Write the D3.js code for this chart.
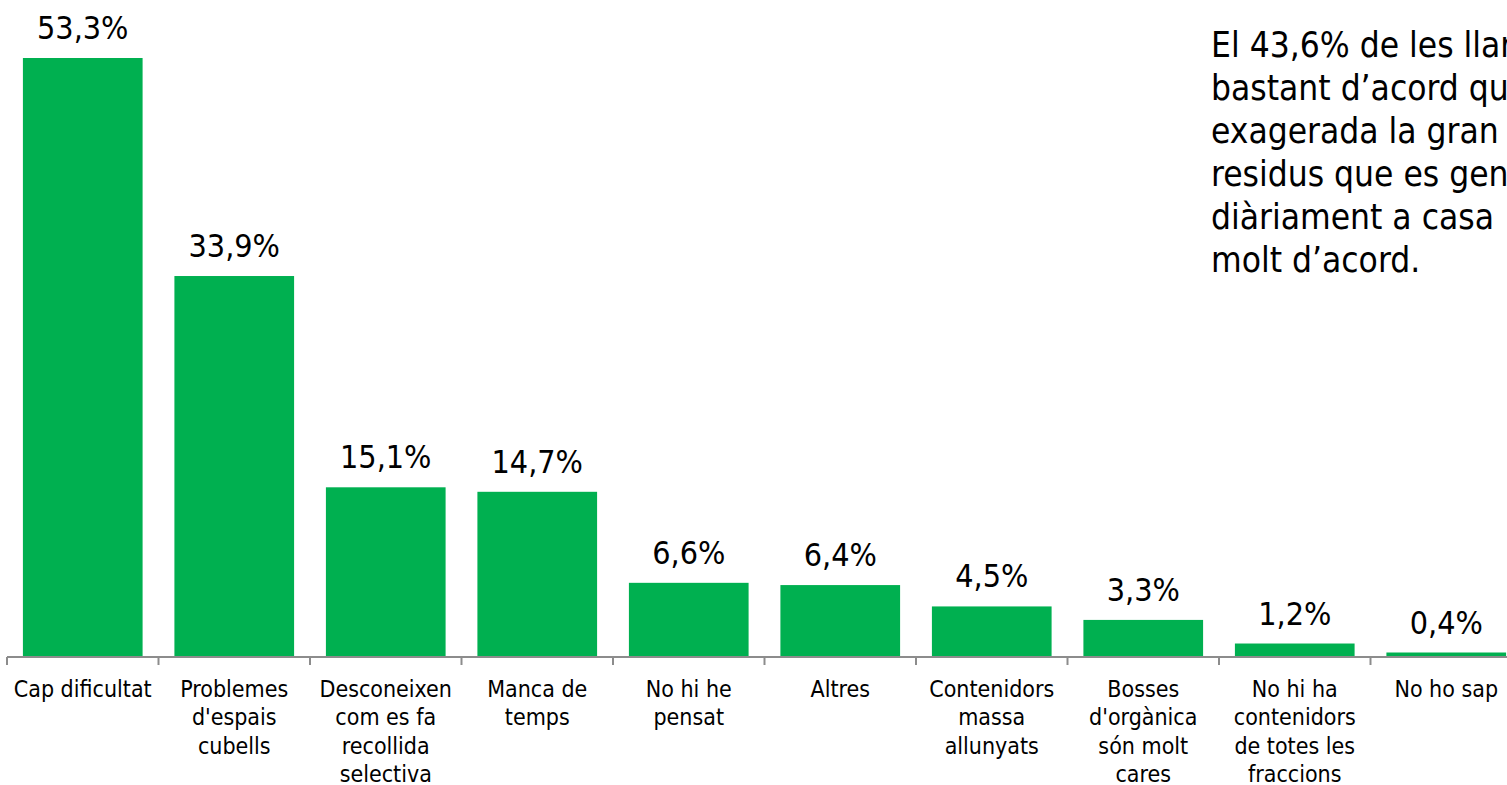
<!DOCTYPE html>
<meta charset="utf-8">
<style>
  body { margin: 0; background: #fff; overflow: hidden; }
  text { font-family: "DejaVu Sans Condensed", "DejaVu Sans", sans-serif; fill: #000; }
</style>
<body>
<svg width="1507" height="785"></svg>
<script src="https://d3js.org/d3.v7.min.js"></script>
<script>
// categories (line breaks as in the original)
var categories = [
  ["Cap dificultat"],
  ["Problemes", "d'espais", "cubells"],
  ["Desconeixen", "com es fa", "recollida", "selectiva"],
  ["Manca de", "temps"],
  ["No hi he", "pensat"],
  ["Altres"],
  ["Contenidors", "massa", "allunyats"],
  ["Bosses", "d'orgànica", "són molt", "cares"],
  ["No hi ha", "contenidors", "de totes les", "fraccions"],
  ["No ho sap"]
];
var values = [53.3, 33.9, 15.1, 14.7, 6.6, 6.4, 4.5, 3.3, 1.2, 0.4];
// side note, cut by the right edge in the original
var note = [
  "El 43,6% de les llars està",
  "bastant d’acord que és",
  "exagerada la gran quantitat de",
  "residus que es generen",
  "diàriament a casa",
  "molt d’acord."
];

var svg = d3.select("svg");
var baseY = 657, left = 7, step = 151.5;

var x = d3.scaleBand()
  .domain(d3.range(values.length))
  .range([left, left + step * values.length])
  .paddingInner(0.21)
  .paddingOuter(0.105);

var y = d3.scaleLinear()
  .domain([0, 53.3])
  .range([baseY, 58]);

// bars
svg.selectAll("rect.bar")
  .data(values)
  .enter().append("rect")
    .attr("class", "bar")
    .attr("x", (d, i) => x(i))
    .attr("y", d => y(d))
    .attr("width", x.bandwidth())
    .attr("height", d => baseY - y(d))
    .style("fill", "#00B050");

// value labels
svg.selectAll("text.val")
  .data(values)
  .enter().append("text")
    .attr("class", "val")
    .attr("x", (d, i) => x(i) + x.bandwidth() / 2)
    .attr("y", d => y(d) - 19)
    .attr("text-anchor", "middle")
    .style("font-size", "32px")
    .text(d => d.toFixed(1).replace(".", ",") + "%");

// axis line + ticks at category boundaries
svg.append("line")
  .attr("x1", left).attr("x2", 1507)
  .attr("y1", baseY).attr("y2", baseY)
  .style("stroke", "#8c8c8c").style("stroke-width", 2);

svg.selectAll("line.tick")
  .data(d3.range(values.length + 1))
  .enter().append("line")
    .attr("class", "tick")
    .attr("x1", i => left + step * i).attr("x2", i => left + step * i)
    .attr("y1", baseY).attr("y2", baseY + 8)
    .style("stroke", "#8c8c8c").style("stroke-width", 2);

// category labels
var cat = svg.selectAll("text.cat")
  .data(categories)
  .enter().append("text")
    .attr("class", "cat")
    .attr("text-anchor", "middle")
    .style("font-size", "23px");

cat.selectAll("tspan")
  .data((d, i) => d.map(s => ({s: s, i: i})))
  .enter().append("tspan")
    .attr("x", d => x(d.i) + x.bandwidth() / 2)
    .attr("y", (d, j) => 697 + j * 28.3)
    .text(d => d.s);

// annotation on the right
svg.append("text")
  .style("font-size", "35px")
  .selectAll("tspan")
  .data(note)
  .enter().append("tspan")
    .attr("x", 1211)
    .attr("y", (d, j) => 57 + j * 43)
    .text(d => d);
</script>
</body>
